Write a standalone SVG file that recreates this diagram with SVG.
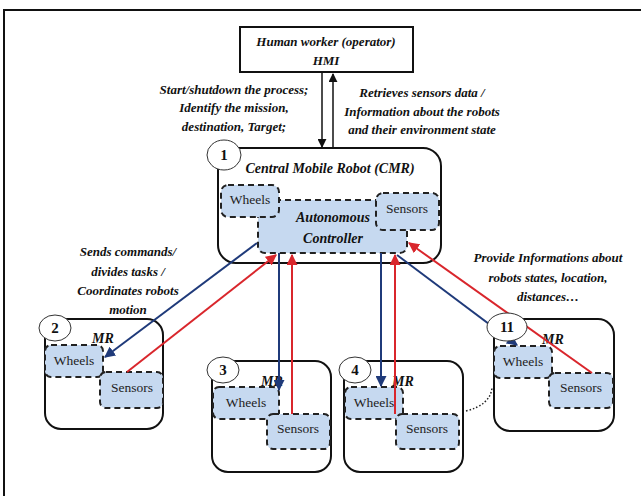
<svg xmlns="http://www.w3.org/2000/svg" width="641" height="496" viewBox="0 0 641 496">
<defs>
<style>
.t{font-family:"Liberation Serif","Times New Roman",serif;font-weight:bold;font-style:italic;font-size:13px;fill:#111;text-anchor:middle}
.r{font-family:"Liberation Serif","Times New Roman",serif;font-size:13.5px;fill:#222;text-anchor:middle}
.n{font-family:"Liberation Serif","Times New Roman",serif;font-weight:bold;font-size:15px;fill:#111;text-anchor:middle}
.box{fill:#fff;stroke:#111;stroke-width:2}
.sub{fill:#c6d9f0;stroke:#222;stroke-width:2;stroke-dasharray:6 4}
.num{fill:#fff;stroke:#333;stroke-width:1}
.blue{stroke:#1f3a7a;stroke-width:2;fill:none}
.red{stroke:#d9262c;stroke-width:2;fill:none}
.blk{stroke:#111;stroke-width:1.5;fill:none}
</style>
<marker id="ab" viewBox="0 0 10 10" refX="9" refY="5" markerWidth="5.5" markerHeight="5.5" orient="auto-start-reverse"><path d="M0,0L10,5L0,10z" fill="#1f3a7a"/></marker>
<marker id="ar" viewBox="0 0 10 10" refX="9" refY="5" markerWidth="5.5" markerHeight="5.5" orient="auto-start-reverse"><path d="M0,0L10,5L0,10z" fill="#d9262c"/></marker>
<marker id="ak" viewBox="0 0 10 10" refX="9" refY="5" markerWidth="6" markerHeight="6" orient="auto-start-reverse"><path d="M0,0L10,5L0,10z" fill="#111"/></marker>
</defs>
<rect x="4" y="10" width="700" height="600" fill="none" stroke="#111" stroke-width="2"/>

<g id="hmi">
<rect x="240" y="27" width="173" height="45" fill="#fff" stroke="#111" stroke-width="2"/>
<text class="t" x="326" y="46">Human worker (operator)</text>
<text class="t" x="326" y="65">HMI</text>
</g>

<g id="labels">
<text class="t" x="234" y="94">Start/shutdown the process;</text>
<text class="t" x="234" y="112">Identify the mission,</text>
<text class="t" x="234" y="131">destination, Target;</text>
<text class="t" x="422" y="97">Retrieves sensors data /</text>
<text class="t" x="422" y="116">Information about the robots</text>
<text class="t" x="422" y="134">and their environment state</text>
<text class="t" x="128" y="256">Sends commands/</text>
<text class="t" x="128" y="276">divides tasks /</text>
<text class="t" x="128" y="295">Coordinates robots</text>
<text class="t" x="128" y="314">motion</text>
<text class="t" x="548" y="262">Provide Informations about</text>
<text class="t" x="548" y="282">robots states, location,</text>
<text class="t" x="548" y="301">distances…</text>
</g>

<g id="cmr">
<rect class="box" x="218" y="148" width="223" height="115" rx="18"/>
<text class="t" x="330" y="173" style="font-size:14px">Central Mobile Robot (CMR)</text>
<rect class="sub" x="258" y="200" width="149" height="53" rx="7"/>
<text class="t" x="333" y="222" style="font-size:14px">Autonomous</text>
<text class="t" x="333" y="243" style="font-size:14px">Controller</text>
<rect class="sub" x="221" y="185" width="58" height="32" rx="7"/>
<text class="r" x="250" y="204">Wheels</text>
<rect class="sub" x="376" y="193" width="63" height="37" rx="7"/>
<text class="r" x="407" y="213">Sensors</text>
</g>

<g id="mr2">
<rect class="box" x="45" y="319" width="118" height="110" rx="16"/>
<text class="t" x="103" y="343" style="font-size:14px">MR</text>
<rect class="sub" x="45" y="345" width="58" height="32" rx="6"/>
<text class="r" x="74" y="365">Wheels</text>
<rect class="sub" x="100" y="372" width="63" height="36" rx="6"/>
<text class="r" x="132" y="392">Sensors</text>
</g>

<g id="mr3">
<rect class="box" x="212" y="361" width="119" height="111" rx="16"/>
<text class="t" x="272" y="386" style="font-size:14px">MR</text>
<rect class="sub" x="213" y="387" width="66" height="32" rx="6"/>
<text class="r" x="246" y="407">Wheels</text>
<rect class="sub" x="267" y="414" width="63" height="35" rx="6"/>
<text class="r" x="298" y="433">Sensors</text>
</g>

<g id="mr4">
<rect class="box" x="344" y="361" width="119" height="111" rx="16"/>
<text class="t" x="403" y="386" style="font-size:14px">MR</text>
<rect class="sub" x="345" y="387" width="58" height="32" rx="6"/>
<text class="r" x="374" y="407">Wheels</text>
<rect class="sub" x="396" y="414" width="63" height="35" rx="6"/>
<text class="r" x="427" y="433">Sensors</text>
</g>

<g id="mr11">
<rect class="box" x="494" y="319" width="120" height="112" rx="16"/>
<text class="t" x="553" y="344" style="font-size:14px">MR</text>
<rect class="sub" x="494" y="346" width="58" height="32" rx="6"/>
<text class="r" x="523" y="366">Wheels</text>
<rect class="sub" x="549" y="373" width="64" height="35" rx="6"/>
<text class="r" x="581" y="392">Sensors</text>
</g>

<g id="connectors">
<line class="blk" x1="322" y1="73" x2="322" y2="147" marker-end="url(#ak)"/>
<line class="blk" x1="333" y1="148" x2="333" y2="74" marker-end="url(#ak)"/>
<line class="blue" x1="257" y1="243" x2="105" y2="357" marker-end="url(#ab)"/>
<line class="red" x1="127" y1="372" x2="276" y2="255" marker-end="url(#ar)"/>
<line class="blue" x1="279" y1="253" x2="279" y2="390" marker-end="url(#ab)"/>
<line class="red" x1="292" y1="414" x2="292" y2="255" marker-end="url(#ar)"/>
<line class="blue" x1="381" y1="253" x2="381" y2="386" marker-end="url(#ab)"/>
<line class="red" x1="395" y1="414" x2="395" y2="255" marker-end="url(#ar)"/>
<line class="blue" x1="397" y1="255" x2="517" y2="345" marker-end="url(#ab)"/>
<line class="red" x1="592" y1="373" x2="409" y2="243" marker-end="url(#ar)"/>
<path d="M466,411 Q490,405 492,388" fill="none" stroke="#222" stroke-width="1.5" stroke-dasharray="1.5 2"/>
</g>

<g id="n1"><ellipse class="num" cx="224" cy="155" rx="17" ry="15"/><text class="n" x="224" y="160">1</text></g>
<g id="n2"><ellipse class="num" cx="55" cy="328" rx="16" ry="13"/><text class="n" x="55" y="333">2</text></g>
<g id="n3"><ellipse class="num" cx="223" cy="370" rx="16" ry="13"/><text class="n" x="223" y="375">3</text></g>
<g id="n4"><ellipse class="num" cx="355" cy="370" rx="16" ry="13"/><text class="n" x="355" y="375">4</text></g>
<g id="n11"><ellipse class="num" cx="507" cy="327" rx="20" ry="14"/><text class="n" x="507" y="332">11</text></g>
</svg>
